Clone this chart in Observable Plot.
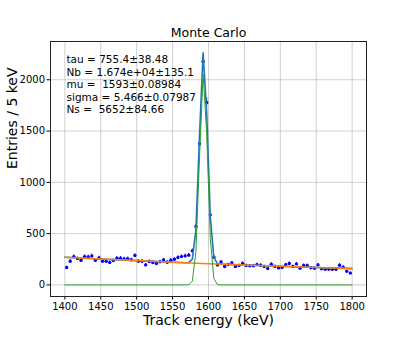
<!DOCTYPE html>
<html>
<head>
<meta charset="utf-8">
<script src="https://cdn.jsdelivr.net/npm/d3@7"></script>
<script src="https://cdn.jsdelivr.net/npm/@observablehq/plot@0.6"></script>
<style>
  html, body { margin: 0; padding: 0; background: #fff; }
  svg { display: block; }
</style>
</head>
<body>
<div id="chart"></div>
<script>
// ---- data ----
const title = "Monte Carlo";
const xLabel = "Track energy (keV)";
const yLabel = "Entries / 5 keV";
const binStart = 1400;
const binWidth = 5;
const counts = [
  169,231,276,257,241,276,273,283,241,263,
  231,231,218,237,260,260,254,255,245,286,
  231,231,195,228,218,208,225,243,221,241,
  250,267,276,283,290,332,569,1376,2178,1779,
  683,270,195,224,179,198,215,179,189,208,
  189,186,186,198,192,179,160,202,179,166,
  169,196,208,179,205,163,190,189,167,163,
  195,157,153,153,153,153,192,172,132,115
];
// background fit (orange)
const bgX = [1400, 1450, 1500, 1550, 1600, 1650, 1700, 1750, 1800];
const bgY = [270, 253, 237, 221, 207, 194, 182, 170, 159];
// signal fit (green)
const sigX = [1400, 1567.5, 1572.5, 1577.5, 1582.5, 1587.5, 1592.5, 1597.5, 1602.5, 1607.5, 1612.5, 1617.5, 1800];
const sigY = [0, 0, 2, 37, 326, 1244, 2055, 1470, 455, 61, 4, 0, 0];
// total fit (blue)
const totX = [1400, 1450, 1500, 1550, 1567.5, 1572.5, 1577.5, 1582.5, 1587.5, 1592.5, 1597.5, 1602.5, 1607.5, 1612.5, 1617.5, 1650, 1700, 1750, 1800];
const totY = [270, 253, 237, 221, 216, 217, 251, 538, 1455, 2264, 1678, 662, 266, 208, 203, 194, 182, 170, 159];
const fitLabels = [
  "tau = 755.4\u00b138.48",
  "Nb = 1.674e+04\u00b1135.1",
  "mu =  1593\u00b10.08984",
  "sigma = 5.466\u00b10.07987",
  "Ns =  5652\u00b184.66"
];
const xTicks = [1400, 1450, 1500, 1550, 1600, 1650, 1700, 1750, 1800];
const yTicks = [0, 500, 1000, 1500, 2000];

// ---- build tables ----
const points = counts.map((c, i) => ({x: binStart + binWidth * (i + 0.5), y: c}));
const bg = bgX.map((x, i) => ({x, y: bgY[i]}));
const sig = sigX.map((x, i) => ({x, y: sigY[i]}));
const tot = totX.map((x, i) => ({x, y: totY[i]}));

const font = "DejaVu Sans, sans-serif";

const chart = Plot.plot({
  width: 407,
  height: 339,
  marginLeft: 50,
  marginRight: 41,
  marginTop: 41,
  marginBottom: 43,
  style: {fontFamily: font, fontSize: "10px", color: "#000", background: "#fff"},
  x: {domain: [1380, 1820]},
  y: {domain: [-113, 2373]},
  marks: [
    Plot.gridX(xTicks, {stroke: "#b0b0b0", strokeOpacity: 0.6, strokeWidth: 1}),
    Plot.gridY(yTicks, {stroke: "#b0b0b0", strokeOpacity: 0.6, strokeWidth: 1}),
    Plot.axisX({ticks: xTicks, tickSize: 3.5, tickPadding: 2.5, tickFormat: d => String(d), label: null, stroke: "#000", fontSize: 10}),
    Plot.axisY({ticks: yTicks, tickSize: 3.5, tickPadding: 2, tickFormat: d => String(d), label: null, stroke: "#000", fontSize: 10}),
    Plot.ruleX(points, {x: "x", y1: d => d.y - Math.sqrt(d.y), y2: d => d.y + Math.sqrt(d.y), stroke: "blue", strokeWidth: 1}),
    Plot.dot(points, {x: "x", y: "y", r: 1.7, fill: "blue", stroke: "none"}),
    Plot.line(tot, {x: "x", y: "y", stroke: "#1f77b4", strokeWidth: 1.6}),
    Plot.line(bg, {x: "x", y: "y", stroke: "#ff7f0e", strokeWidth: 1.5}),
    Plot.line(sig, {x: "x", y: "y", stroke: "#2ca02c", strokeWidth: 1}),
    Plot.frame({stroke: "#222", strokeWidth: 1}),
    Plot.text([fitLabels.join("\n")], {
      frameAnchor: "top-left",
      dx: 16,
      dy: 13,
      lineAnchor: "top",
      lineHeight: 1.19,
      textAnchor: "start",
      fontSize: 10.5,
      fill: "#000"
    }),
    Plot.text([title], {frameAnchor: "top", dy: -13, fontSize: 12.5, fill: "#000"}),
    Plot.text([xLabel], {frameAnchor: "bottom", dy: 28, fontSize: 14, fill: "#000"}),
    Plot.text([yLabel], {frameAnchor: "left", dx: -38, rotate: -90, fontSize: 14, fill: "#000"})
  ]
});
chart.querySelectorAll("text, tspan").forEach(t => t.setAttribute("xml:space", "preserve"));
chart.style.whiteSpace = "pre";
document.getElementById("chart").appendChild(chart);
</script>
</body>
</html>
